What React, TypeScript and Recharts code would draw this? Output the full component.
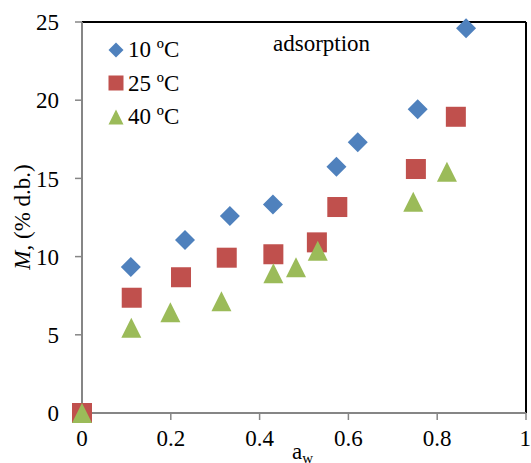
import React from 'react';
import { ScatterChart, Scatter, XAxis, YAxis, ReferenceLine, Legend } from 'recharts';

// water activity / moisture content readings per temperature
const aw10 = [0, 0.11, 0.232, 0.333, 0.43, 0.573, 0.621, 0.756, 0.865];
const m10 = [0, 9.33, 11.06, 12.6, 13.33, 15.75, 17.31, 19.42, 24.6];
const aw25 = [0, 0.112, 0.223, 0.326, 0.431, 0.529, 0.575, 0.752, 0.842];
const m25 = [0, 7.37, 8.68, 9.93, 10.15, 10.91, 13.17, 15.6, 18.94];
const aw40 = [0, 0.111, 0.199, 0.314, 0.431, 0.482, 0.531, 0.746, 0.822];
const m40 = [0, 5.45, 6.44, 7.14, 8.93, 9.32, 10.38, 13.5, 15.43];

const xTicks = [0, 0.2, 0.4, 0.6, 0.8, 1];
const yTicks = [0, 5, 10, 15, 20, 25];
const seriesNames = ['10 ºC', '25 ºC', '40 ºC'];

const BLUE = '#4F81BD';
const RED = '#C0504D';
const GREEN = '#9BBB59';
const GRAY = '#868686';
const FONT = '"Liberation Serif", "Times New Roman", serif';

const zip = (xs: number[], ys: number[]) => xs.map((x, i) => ({ x, y: ys[i] }));

const Diamond = ({ cx, cy, r = 10, fill = BLUE }: any) => (
  <polygon points={`${cx},${cy - r} ${cx + r},${cy} ${cx},${cy + r} ${cx - r},${cy}`} fill={fill} />
);
const Square = ({ cx, cy, r = 10, fill = RED }: any) => (
  <rect x={cx - r} y={cy - r} width={2 * r} height={2 * r} fill={fill} />
);
const Triangle = ({ cx, cy, r = 10, fill = GREEN }: any) => (
  <polygon points={`${cx},${cy - r} ${cx + r},${cy + r} ${cx - r},${cy + r}`} fill={fill} />
);

const markers = [Diamond, Square, Triangle];
const colors = [BLUE, RED, GREEN];

const LegendBox = () => (
  <div style={{ fontFamily: FONT, fontSize: 23, color: '#000', lineHeight: '33.5px' }}>
    {seriesNames.map((name, i) => {
      const M = markers[i];
      return (
        <div key={name} style={{ display: 'flex', alignItems: 'center', height: 33.5 }}>
          <svg width={18} height={18} style={{ marginRight: 3 }}>
            <M cx={9} cy={9} r={7.5} fill={colors[i]} />
          </svg>
          <span>{name}</span>
        </div>
      );
    })}
  </div>
);

const YTitle = () => (
  <text
    x={22}
    y={217}
    transform="rotate(-90 22 217)"
    textAnchor="middle"
    dominantBaseline="central"
    fontFamily={FONT}
    fontSize={23}
    fill="#000"
  >
    <tspan fontStyle="italic">M</tspan>, (% d.b.)
  </text>
);

const XTitle = () => (
  <text x={292} y={459} fontFamily={FONT} fontSize={23} fill="#000">
    a<tspan dy={4} fontSize={15}>w</tspan>
  </text>
);

const tickStyle = { fill: '#000', fontSize: 23, fontFamily: FONT };

export default function App() {
  return (
    <div style={{ position: 'absolute', left: 0, top: 0, width: 531, height: 463, background: '#fff' }}>
      <ScatterChart width={531} height={463} margin={{ top: 22, right: 5, bottom: 0, left: 0 }}>
        <XAxis
          type="number"
          dataKey="x"
          domain={[0, 1]}
          ticks={xTicks}
          height={50}
          tick={tickStyle}
          tickSize={7}
          tickMargin={10}
          tickLine={{ stroke: GRAY, strokeWidth: 1.5 }}
          axisLine={{ stroke: GRAY, strokeWidth: 2 }}
          label={<XTitle />}
        />
        <YAxis
          type="number"
          dataKey="y"
          domain={[0, 25]}
          ticks={yTicks}
          width={82}
          tick={tickStyle}
          tickSize={7}
          tickMargin={16}
          tickLine={{ stroke: GRAY, strokeWidth: 1.5 }}
          axisLine={{ stroke: GRAY, strokeWidth: 2 }}
          label={<YTitle />}
        />
        <ReferenceLine y={25} stroke="#000" strokeWidth={2} />
        <ReferenceLine x={1} stroke="#000" strokeWidth={2} />
        <Scatter name={seriesNames[0]} data={zip(aw10, m10)} shape={<Diamond />} isAnimationActive={false} />
        <Scatter name={seriesNames[1]} data={zip(aw25, m25)} shape={<Square />} isAnimationActive={false} />
        <Scatter name={seriesNames[2]} data={zip(aw40, m40)} shape={<Triangle />} isAnimationActive={false} />
        <Legend
          layout="vertical"
          verticalAlign="middle"
          align="center"
          content={<LegendBox />}
          wrapperStyle={{ position: 'absolute', top: 33, left: 107, width: 'auto', height: 'auto' }}
        />
      </ScatterChart>
      <div
        style={{
          position: 'absolute',
          left: 273,
          top: 31,
          fontFamily: FONT,
          fontSize: 23,
          color: '#000',
          lineHeight: '26px',
        }}
      >
        adsorption
      </div>
    </div>
  );
}
